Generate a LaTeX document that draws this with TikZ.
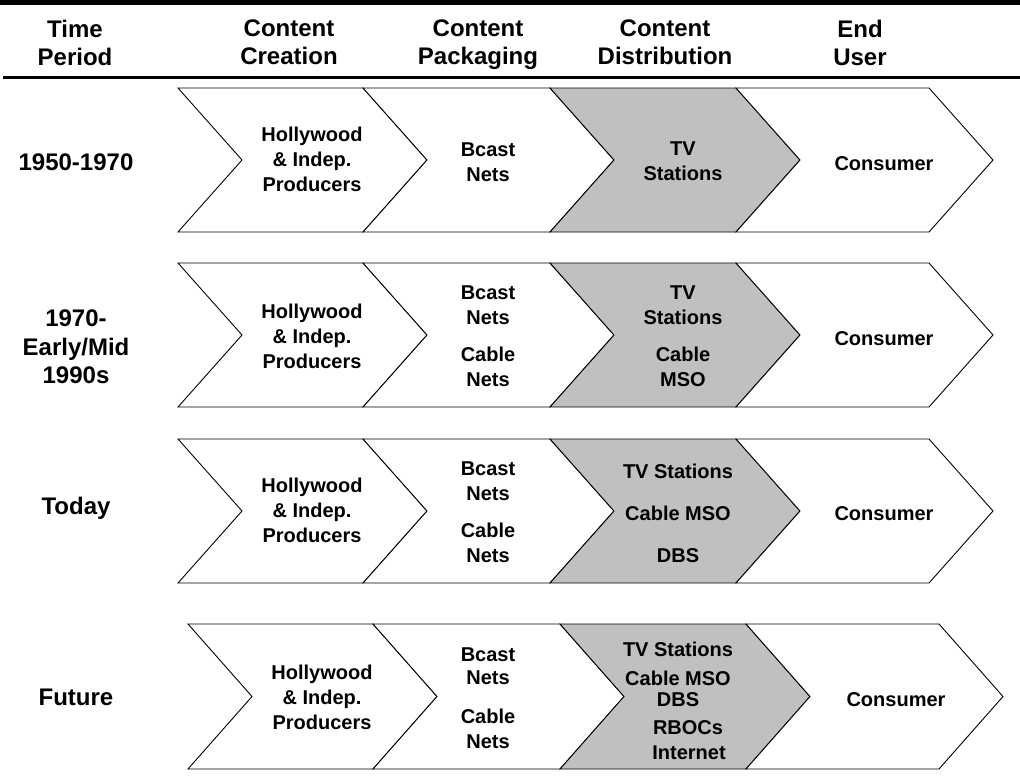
\documentclass[tikz,border=0pt]{standalone}
\usepackage{fontspec}
\setmainfont{Liberation Sans}
\definecolor{shade}{HTML}{C0C0C0}
\tikzset{
	hdr/.style={font=\bfseries\fontsize{24}{28.5}\selectfont, align=center, inner sep=0pt},
	cell/.style={font=\bfseries\fontsize{20}{25}\selectfont, align=center, inner sep=0pt},
	chev/.style={draw=black, line width=0.9pt, line join=miter}
}
\newcommand{\chainrow}[3]{%
	\foreach \xa/\xb/\fc in {178/363/white, 363/550/white, 550/736/shade, 736/929/white}
		\draw[chev, fill=\fc] (\xa+#3,#1) -- (\xb+#3,#1) -- (\xb+#3+64,{(#1+#2)/2}) -- (\xb+#3,#2)
			-- (\xa+#3,#2) -- (\xa+#3+64,{(#1+#2)/2}) -- cycle;
}

\begin{document}
\begin{tikzpicture}[x=1pt, y=-1pt]
	\useasboundingbox (0,0) rectangle (1020,777);
	\fill[black] (0,0) rectangle (1020,4.5);
	\draw[line width=3pt] (3,77.5) -- (1020,77.5);

	\node[hdr, anchor=north] (hTime) at (75,19.5) {Time\\Period};
	\node[hdr, anchor=north] (hCreate) at (289,19.5) {Content\\Creation};
	\node[hdr, anchor=north] (hPack) at (478,19.5) {Content\\Packaging};
	\node[hdr, anchor=north] (hDist) at (665,19.5) {Content\\Distribution};
	\node[hdr, anchor=north] (hUser) at (860,19.5) {End\\User};

	\chainrow{88}{232}{0}
	\chainrow{263}{407}{0}
	\chainrow{439}{583}{0}
	\chainrow{624}{769}{10}

	% 1950-1970
	\node[hdr] (tA) at (76,162) {1950-1970};
	\node[cell] (crA) at (312,159) {Hollywood\\\& Indep.\\Producers};
	\node[cell] (pkA) at (488,162) {Bcast\\Nets};
	\node[cell] (dsA) at (683,161.5) {TV\\Stations};
	\node[cell] (usA) at (884,164) {Consumer};

	% 1970-1990s
	\node[hdr] (tB) at (76,347) {1970-\\Early/Mid\\1990s};
	\node[cell] (crB) at (312,336) {Hollywood\\\& Indep.\\Producers};
	\node[cell] (pkB) at (488,336.5) {Bcast\\Nets\\[12pt]Cable\\Nets};
	\node[cell] (dsB) at (683,336.5) {TV\\Stations\\[12pt]Cable\\MSO};
	\node[cell] (usB) at (884,339) {Consumer};

	% today
	\node[hdr] (tC) at (76,508.5) {Today};
	\node[cell] (crC) at (312,510) {Hollywood\\\& Indep.\\Producers};
	\node[cell] (pkC) at (488,512.5) {Bcast\\Nets\\[12pt]Cable\\Nets};
	\node[cell] (dsC) at (678,513.5) {TV Stations\\[17pt]Cable MSO\\[17pt]DBS};
	\node[cell] (usC) at (884,514) {Consumer};

	% future
	\node[hdr] (tD) at (76,697) {Future};
	\node[cell] (crD) at (322,697) {Hollywood\\\& Indep.\\Producers};
	\node[cell] (pkD) at (488,698.5) {Bcast\\[-2pt]Nets\\[14pt]Cable\\Nets};
	\node[cell] (dsD) at (678,700.4) {TV Stations\\[4pt]Cable MSO\\[-4pt]DBS\\[3pt]\hspace*{20pt}RBOCs\\\hspace*{22pt}Internet};
	\node[cell] (usD) at (896,700) {Consumer};
\end{tikzpicture}
\end{document}
